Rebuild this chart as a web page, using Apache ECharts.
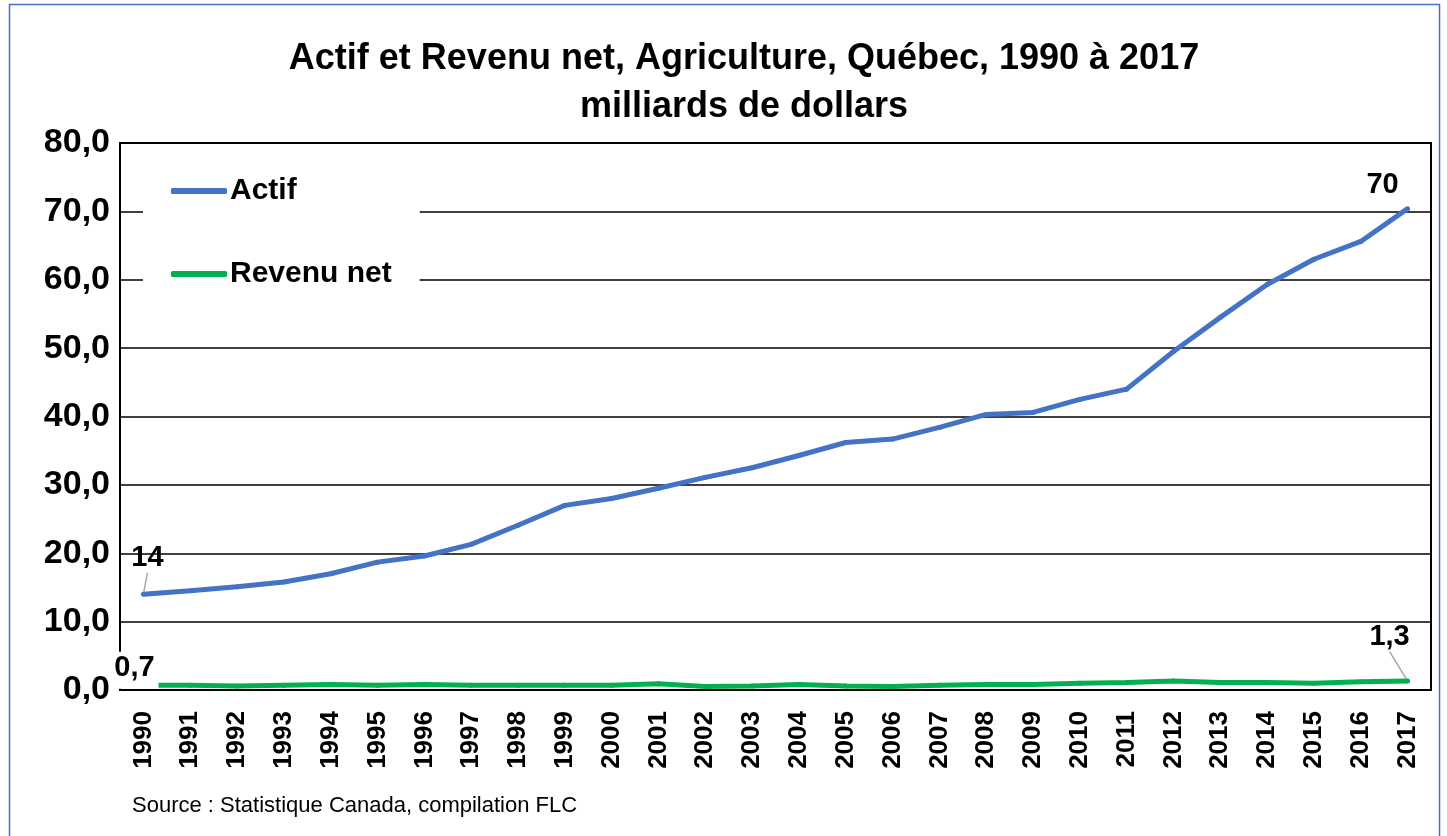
<!DOCTYPE html>
<html>
<head>
<meta charset="utf-8">
<title>Actif et Revenu net, Agriculture, Québec</title>
<script src="https://cdn.jsdelivr.net/npm/echarts@6/dist/echarts.min.js"></script>
<style>
    html, body { margin: 0; padding: 0; background: #fff; }
    #main { width: 1447px; height: 836px; }
</style>
</head>
<body>
<div id="main"></div>
<script>
var years = ['1990', '1991', '1992', '1993', '1994', '1995', '1996', '1997', '1998', '1999',
    '2000', '2001', '2002', '2003', '2004', '2005', '2006', '2007', '2008', '2009',
    '2010', '2011', '2012', '2013', '2014', '2015', '2016', '2017'];
var actif = [14.0, 14.5, 15.1, 15.8, 17.0, 18.7, 19.6, 21.3, 24.1, 27.0,
    28.0, 29.5, 31.1, 32.5, 34.3, 36.2, 36.7, 38.4, 40.3, 40.6,
    42.5, 44.0, 49.5, 54.5, 59.3, 63.0, 65.6, 70.4];
var revenuNet = [0.7, 0.7, 0.6, 0.7, 0.8, 0.7, 0.8, 0.7, 0.7, 0.7,
    0.7, 0.9, 0.5, 0.6, 0.8, 0.6, 0.5, 0.7, 0.8, 0.8,
    1.0, 1.1, 1.3, 1.1, 1.1, 1.0, 1.2, 1.3];
var yTicks = [0, 10, 20, 30, 40, 50, 60, 70, 80];

var narrow = "'Liberation Sans Narrow', 'Arial Narrow', 'Liberation Sans', sans-serif";

function virgule(v, d) {
    return v.toFixed(d).replace('.', ',');
}

// only first and last point get a value label
function endLabels(values, fmt, first, last) {
    return values.map(function (v, i) {
        if (i === 0) {
            return {value: v, label: Object.assign({show: true, formatter: fmt}, first.label), labelLine: first.labelLine};
        }
        if (i === values.length - 1) {
            return {value: v, label: Object.assign({show: true, formatter: fmt}, last.label), labelLine: last.labelLine};
        }
        return v;
    });
}

function chart() {
    var dom = document.getElementById('main');
    var myChart = echarts.init(dom);

    var labelFont = {
        fontFamily: narrow,
        fontWeight: 'bold',
        fontSize: 29,
        color: '#000'
    };
    var grayLine = {show: true, lineStyle: {color: '#a6a6a6', width: 1.5}};

    var option = {
        backgroundColor: '#fff',
        title: {
            text: 'Actif et Revenu net, Agriculture, Québec, 1990 à 2017\nmilliards de dollars',
            left: 739,
            textAlign: 'center',
            top: 30,
            textStyle: {
                fontFamily: narrow,
                fontWeight: 'bold',
                fontSize: 36,
                lineHeight: 48,
                color: '#000'
            }
        },
        legend: {
            orient: 'vertical',
            left: 143,
            top: 162,
            padding: [14, 28, 14, 28],
            itemGap: 53,
            itemWidth: 56,
            itemHeight: 6,
            icon: 'roundRect',
            backgroundColor: '#fff',
            textStyle: {
                fontFamily: narrow,
                fontWeight: 'bold',
                fontSize: 30,
                color: '#000',
                padding: [0, 0, 0, -2]
            },
            data: ['Actif', 'Revenu net']
        },
        graphic: [{
            type: 'rect',
            shape: {x: 9.5, y: 4.5, width: 1430, height: 840},
            style: {fill: 'none', stroke: '#4472C4', lineWidth: 1.5},
            silent: true
        }, {
            type: 'text',
            left: 132,
            top: 795,
            style: {
                text: 'Source : Statistique Canada, compilation FLC',
                fontFamily: narrow,
                fontSize: 22,
                fill: '#000'
            }
        }],
        grid: {
            left: 120,
            right: 16,
            top: 143,
            bottom: 146,
            show: true,
            borderColor: '#000',
            borderWidth: 2,
            containLabel: false
        },
        xAxis: {
            type: 'category',
            data: years,
            boundaryGap: true,
            axisLine: {show: true, lineStyle: {color: '#000', width: 2}},
            axisTick: {show: false},
            axisLabel: {
                interval: 0,
                rotate: 90,
                margin: 21,
                fontFamily: narrow,
                fontWeight: 'bold',
                fontSize: 26,
                color: '#000'
            }
        },
        yAxis: {
            type: 'value',
            min: yTicks[0],
            max: yTicks[yTicks.length - 1],
            interval: 10,
            axisLine: {show: true, lineStyle: {color: '#000', width: 2}},
            axisTick: {show: false},
            splitLine: {lineStyle: {color: '#000', width: 1.5}},
            axisLabel: {
                margin: 10,
                fontFamily: narrow,
                fontWeight: 'bold',
                fontSize: 34,
                color: '#000',
                formatter: function (v) { return virgule(v, 1); }
            }
        },
        series: [
            {
                name: 'Actif',
                type: 'line',
                data: endLabels(actif, function (p) { return Math.round(p.value); },
                    {label: {}, labelLine: grayLine},
                    {label: {}, labelLine: {show: false}}),
                symbol: 'circle',
                symbolSize: 5,
                showAllSymbol: true,
                z: 3,
                lineStyle: {color: '#4472C4', width: 5},
                itemStyle: {color: '#4472C4'},
                label: Object.assign({show: false, position: 'top'}, labelFont),
                labelLayout: function (p) {
                    if (p.dataIndex === 0) {
                        return {dx: 4, dy: -14};
                    }
                    return {dx: -25, dy: -2};
                }
            },
            {
                name: 'Revenu net',
                type: 'line',
                data: endLabels(revenuNet, function (p) { return virgule(p.value, 1); },
                    {label: {backgroundColor: '#fff', padding: [2, 4, 6, 4]}, labelLine: {show: false}},
                    {label: {}, labelLine: grayLine}),
                symbol: 'circle',
                symbolSize: 5,
                showAllSymbol: true,
                z: 2,
                lineStyle: {color: '#00B050', width: 5},
                itemStyle: {color: '#00B050'},
                label: Object.assign({show: false, position: 'top'}, labelFont),
                labelLayout: function (p) {
                    if (p.dataIndex === 0) {
                        return {dx: -9, dy: 11};
                    }
                    return {dx: -18, dy: -22};
                }
            }
        ]
    };
    myChart.setOption(option, true);
    window.onresize = myChart.resize;
}

chart();
</script>
</body>
</html>
